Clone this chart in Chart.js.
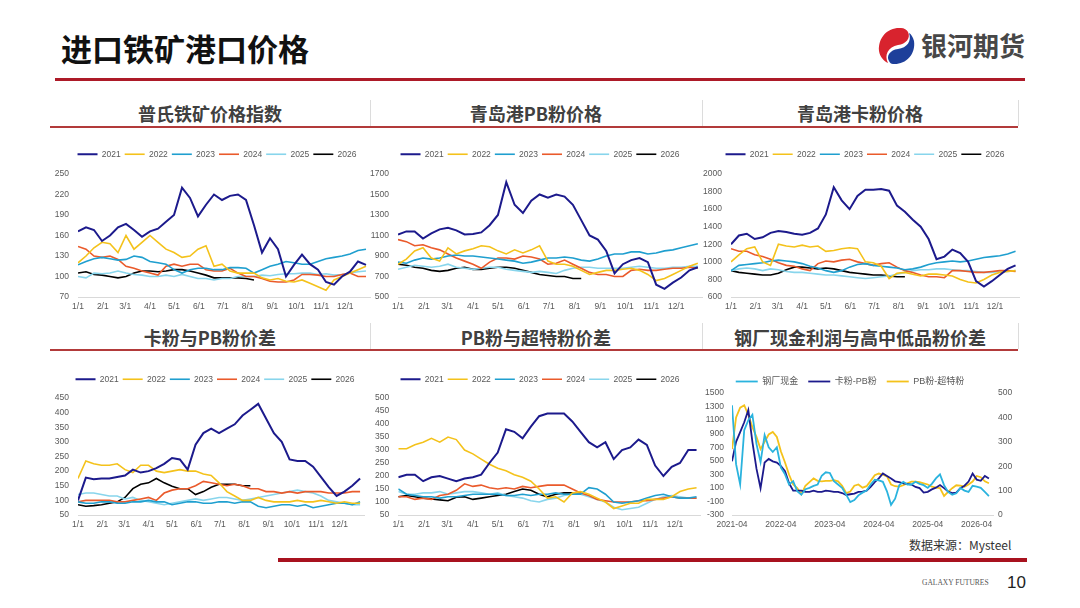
<!DOCTYPE html>
<html>
<head>
<meta charset="utf-8">
<script src="https://cdn.jsdelivr.net/npm/chart.js@4.4.1/dist/chart.umd.min.js"></script>
<style>
  body { margin: 0; background: #fff; }
  #page { position: relative; width: 1080px; height: 608px; overflow: hidden; background: #fff;
          font-family: "Noto Sans CJK SC", "Liberation Sans", sans-serif; }
  .abs { position: absolute; white-space: nowrap; }
  canvas { position: absolute; }
  .ptitle { position: absolute; font-weight: bold; font-size: 18px; line-height: 22px; color: #404040; text-align: center; }
  .rule { position: absolute; background: #b23a3a; height: 1.5px; }
  .vsep { position: absolute; width: 1px; background: #dcdcdc; }
</style>
</head>
<body>
<div id="page">
  <div class="abs" style="left:61px;top:28px;font-size:31px;line-height:40px;font-weight:bold;color:#111;">进口铁矿港口价格</div>
  <svg class="abs" style="left:874px;top:26px;" width="44" height="40" viewBox="0 0 44 40">
    <path d="M27 2 C14 1 4 11 5 25 C6 31 10 35 14 37 C10 29 14 21 24 19 C32 18 37 12 34 6 C33 4 30 2 27 2 Z" fill="#d8232e"/>
    <path d="M19 38 C31 39 42 29 40 15 C39 11 37 8 35 7 C38 15 33 22 24 23 C16 24 12 30 15 35 C16 37 17 38 19 38 Z" fill="#1d3f9a"/>
  </svg>
  <div class="abs" style="left:921px;top:28px;font-size:26px;line-height:34px;font-weight:bold;color:#474747;">银河期货</div>
  <div class="abs" style="left:55px;top:78px;width:970px;height:3px;background:#ad1a28;"></div>

  <div class="ptitle" style="left:50px;top:102px;width:320px;">普氏铁矿价格指数</div>
  <div class="ptitle" style="left:370px;top:102px;width:332px;">青岛港PB粉价格</div>
  <div class="ptitle" style="left:702px;top:102px;width:316px;">青岛港卡粉价格</div>
  <div class="rule" style="left:50px;top:126px;width:968px;"></div>
  <div class="vsep" style="left:370px;top:100px;height:26px;"></div>
  <div class="vsep" style="left:702px;top:100px;height:26px;"></div>
  <div class="vsep" style="left:1018px;top:100px;height:26px;"></div>

  <div class="ptitle" style="left:50px;top:326px;width:320px;">卡粉与PB粉价差</div>
  <div class="ptitle" style="left:370px;top:326px;width:332px;">PB粉与超特粉价差</div>
  <div class="ptitle" style="left:702px;top:326px;width:316px;">钢厂现金利润与高中低品粉价差</div>
  <div class="rule" style="left:50px;top:349px;width:968px;"></div>
  <div class="vsep" style="left:370px;top:323px;height:26px;"></div>
  <div class="vsep" style="left:702px;top:323px;height:26px;"></div>
  <div class="vsep" style="left:1018px;top:323px;height:26px;"></div>

  <div class="abs" style="left:909px;top:537px;font-size:12px;line-height:16px;color:#333;">数据来源：Mysteel</div>
  <div class="abs" style="left:278px;top:558px;width:749px;height:4px;background:#a8121f;"></div>
  <div class="abs" style="left:922px;top:578px;font-family:'Liberation Serif',serif;font-size:7.5px;line-height:10px;color:#555;">GALAXY FUTURES</div>
  <div class="abs" style="left:1007px;top:573px;font-family:'Liberation Sans',sans-serif;font-size:17px;line-height:20px;color:#222;">10</div>
</div>

<script>
// 采样日（年内第几天）
const sampleDays = [0,10,20,30,40,50,60,70,80,90,100,110,120,130,140,150,160,170,180,190,200,210,220,230,240,250,260,270,280,290,300,310,320,330,340,350,360];
const monthStart = [0,31,59,90,120,151,181,212,243,273,304,334];
const monthLabel = ['1/1','2/1','3/1','4/1','5/1','6/1','7/1','8/1','9/1','10/1','11/1','12/1'];
const yearNames = ['2021','2022','2023','2024','2025','2026'];
const yearColors = ['#1c1a8c','#f4c21b','#1f9fcf','#ea5a2b','#88d5ec','#000000'];
const yearWidths = [2, 1.6, 1.6, 1.6, 1.6, 1.6];

// 普氏铁矿价格指数
const platts21 = [166,172,168,152,160,172,177,168,158,166,170,180,190,230,215,188,205,220,212,218,220,212,175,135,156,140,100,117,132,118,110,92,88,100,107,122,117];
const platts22 = [120,130,142,150,148,135,160,140,150,160,150,140,135,128,130,140,145,115,118,108,105,105,105,98,95,97,93,92,95,90,85,80,95,100,105,110,115];
const platts23 = [117,122,126,128,126,124,125,130,128,122,120,118,110,105,110,112,112,110,110,113,113,112,105,110,115,118,122,120,118,118,122,126,128,130,133,138,140];
const platts24 = [144,140,130,128,130,125,115,112,108,105,102,115,118,115,118,118,110,108,108,112,105,100,100,97,93,92,92,95,103,103,102,100,100,103,105,100,100];
const platts25 = [100,98,105,104,105,108,105,103,102,100,100,102,100,103,100,97,97,95,97,97,100,100,100,102,101,103,104,104,105,105,103,104,102,103,105,107,108];
const platts26 = [105,107,103,102,100,98,100,105,108,108,107,108,110,110,108,105,102,98,98,98,98,97,95];
const plattsTicks = [70,100,130,160,190,220,250];

// 青岛港PB粉价格
const pb21 = [1110,1140,1140,1070,1120,1160,1175,1150,1110,1115,1130,1200,1300,1620,1400,1320,1440,1500,1470,1500,1480,1400,1250,1100,1060,950,730,820,860,880,840,620,580,640,690,760,790];
const pb22 = [820,870,950,980,880,850,980,920,950,970,1000,990,950,920,960,930,960,1000,850,820,820,800,760,720,740,760,760,770,780,760,720,660,680,720,760,800,830];
const pb23 = [840,830,860,880,870,880,900,910,900,900,890,880,870,860,850,830,840,860,880,880,890,880,860,850,870,900,920,920,940,940,920,930,950,960,980,1000,1020];
const pb24 = [1060,1040,1000,1010,980,960,920,880,850,820,780,840,880,880,870,900,890,870,820,830,860,820,780,740,720,720,700,700,760,770,760,760,770,780,780,790,780];
const pb25 = [770,790,810,800,790,800,820,790,780,770,780,790,790,770,760,750,740,750,740,730,760,780,790,790,780,780,780,780,790,800,790,780,780,790,790,800,800];
const pb26 = [820,810,790,780,760,750,760,780,790,770,770,780,790,790,780,760,740,720,710,700,700,680,680];
const pbTicks = [500,700,900,1100,1300,1500,1700];

// 青岛港卡粉价格
const kc21 = [1200,1300,1320,1260,1280,1330,1350,1340,1320,1310,1330,1380,1540,1850,1700,1600,1750,1820,1820,1830,1810,1640,1570,1480,1400,1260,1030,1060,1140,1100,1000,780,720,780,850,920,960];
const kc22 = [1000,1080,1150,1170,1000,960,1200,1180,1170,1190,1170,1180,1120,1130,1150,1160,1150,1000,990,950,810,870,880,860,840,860,860,850,840,800,770,760,800,850,880,890,900];
const kc23 = [900,960,970,980,990,1010,1020,1010,1000,980,950,930,900,880,900,940,970,980,960,950,940,930,910,920,940,970,990,1000,1010,1000,1010,1030,1050,1060,1070,1090,1120];
const kc24 = [1150,1120,1120,1080,1060,1030,990,960,950,920,900,980,1010,1000,1020,1030,1000,980,960,980,990,940,900,880,850,830,830,820,900,900,890,880,880,890,900,900,890];
const kc25 = [900,920,930,920,900,920,910,890,880,880,870,860,850,850,840,830,820,810,820,830,840,860,880,900,910,910,920,920,910,900,900,890,880,880,890,890,900];
const kc26 = [900,880,870,860,850,850,870,910,940,940,930,920,930,920,900,880,870,860,850,850,840,830,830];
const kcTicks = [600,800,1000,1200,1400,1600,1800,2000];

// 卡粉与PB粉价差
const kp21 = [100,178,172,175,175,180,185,205,195,200,210,225,245,240,205,290,330,345,330,345,360,390,410,430,380,330,300,240,235,235,215,180,145,115,130,150,175];
const kp22 = [175,235,225,220,220,225,205,195,220,220,200,195,200,205,200,200,190,185,160,130,115,100,100,110,100,95,95,95,100,95,95,100,95,90,95,90,90];
const kp23 = [95,90,90,95,95,90,90,95,95,100,95,95,85,90,95,95,90,90,95,95,90,95,95,80,75,80,85,85,80,85,75,80,85,90,90,85,95];
const kp24 = [95,100,100,100,100,95,95,100,105,110,100,125,135,140,140,150,165,160,155,150,155,150,140,140,130,130,125,130,125,130,130,130,125,125,125,130,130];
const kp25 = [120,125,125,120,115,115,105,110,100,95,90,85,90,95,100,105,100,105,110,110,105,100,105,110,115,120,125,130,135,130,125,115,100,95,90,85,85];
const kp26 = [85,80,82,85,90,95,110,140,155,160,175,160,148,140,140,120,130,145,155,155,155,150,150];
const kpTicks = [50,100,150,200,250,300,350,400,450];

// PB粉与超特粉价差
const ps21 = [195,205,205,180,195,200,190,180,190,195,205,250,290,380,370,345,390,430,440,440,440,410,370,330,310,330,265,300,310,340,320,240,200,235,250,300,300];
const ps22 = [305,305,320,330,345,330,350,340,300,285,265,245,230,220,205,195,180,150,115,120,100,135,140,130,115,100,75,85,95,95,110,110,110,120,140,150,155];
const ps23 = [150,130,125,120,120,115,120,120,125,130,130,130,130,125,125,130,125,130,130,135,130,130,130,155,150,130,100,95,100,105,115,125,130,120,115,115,120];
const ps24 = [120,120,110,115,110,125,130,145,170,160,165,155,150,155,150,160,155,160,165,165,165,150,135,125,110,105,100,100,100,105,105,110,115,120,115,115,115];
const ps25 = [140,130,130,135,135,140,130,135,140,140,135,130,135,125,120,115,105,100,110,115,125,130,130,120,110,100,80,70,75,80,95,110,120,125,120,115,115];
const ps26 = [120,125,120,115,112,108,105,118,120,110,115,120,125,130,140,150,145,130,120,130,135,135,135];
const psTicks = [50,100,150,200,250,300,350,400,450,500];

// 钢厂现金利润与价差（月度，2021-04起）
const profitNames = ['钢厂现金','卡粉-PB粉','PB粉-超特粉'];
const profitColors = ['#2ab3de','#1c1a8c','#f4c21b'];
const millCash = [1320,450,150,950,1100,1180,750,480,880,700,630,700,400,300,150,200,50,0,80,100,130,150,280,330,320,200,150,100,0,-110,-80,-10,30,60,150,220,210,190,50,-150,-60,140,190,150,150,190,160,140,100,160,240,300,140,40,0,20,100,60,40,130,120,100,40,-20];
const spreadKP = [220,300,340,380,430,300,190,110,215,230,220,215,200,180,130,100,100,100,95,95,100,95,95,100,98,95,95,90,82,85,88,95,96,100,115,135,150,170,160,150,138,135,130,128,125,115,110,92,95,105,112,123,110,96,90,92,110,120,137,170,145,140,160,150];
const spreadPS = [270,400,440,450,410,360,320,270,300,330,340,320,260,215,165,125,110,85,120,135,150,140,138,140,140,143,138,120,90,96,120,125,112,118,140,163,170,165,158,125,118,116,122,130,137,137,135,130,125,116,112,110,78,95,110,122,120,116,125,137,160,155,138,130];
const yearTickPos = [0,12,24,36,48,60];
const yearTickLabel = ['2021-04','2022-04','2023-04','2024-04','2025-04','2026-04'];
const cashTicks = [-300,-100,100,300,500,700,900,1100,1300,1500];
const spreadTicks = [0,100,200,300,400,500];

Chart.defaults.font.family = '"Liberation Sans","Noto Sans CJK SC",sans-serif';
Chart.defaults.color = '#595959';
const tickFont = { size: 8.5 };

// fixes the legend height and moves the legend so its centre sits at page x = cx
function legendPlace(h, g) {
  return {
    id: 'legendPlace',
    beforeInit(chart) {
      if (!chart.legend) return;
      const fit = chart.legend.fit;
      chart.legend.fit = function () { fit.call(this); this.height = h; };
    },
    afterLayout(chart) {
      const lg = chart.legend;
      if (!lg) return;
      const dx = (g.cx - g.x) - (lg.left + lg.right) / 2;
      lg.left += dx;
      lg.right += dx;
    }
  };
}

function makeCanvas(id, g) {
  const c = document.createElement('canvas');
  c.id = id;
  c.width = g.w; c.height = g.h;
  c.style.left = g.x + 'px'; c.style.top = g.y + 'px';
  c.style.width = g.w + 'px'; c.style.height = g.h + 'px';
  document.getElementById('page').appendChild(c);
  return c;
}

function yearChart(id, g, series, yTicks) {
  const datasets = yearNames.map((name, i) => ({
    label: name,
    data: series[i].map((v, j) => ({ x: sampleDays[j], y: v })),
    borderColor: yearColors[i],
    backgroundColor: yearColors[i],
    borderWidth: yearWidths[i],
    pointRadius: 0,
    tension: 0
  }));
  return new Chart(makeCanvas(id, g), {
    type: 'line',
    data: { datasets },
    options: {
      responsive: false,
      animation: false,
      events: [],
      layout: { padding: { left: 0, right: g.padR, top: 0, bottom: 0 } },
      plugins: {
        legend: {
          labels: { usePointStyle: true, pointStyle: 'line', pointStyleWidth: 20, padding: 4,
                    font: { size: 8.5 }, color: '#595959' }
        },
        tooltip: { enabled: false }
      },
      scales: {
        x: {
          type: 'linear', min: 0, max: 365,
          grid: { display: false, drawTicks: false },
          border: { display: true, color: '#d9d9d9' },
          afterBuildTicks: s => { s.ticks = monthStart.map(v => ({ value: v })); },
          afterFit: s => { s.height = 20; },
          ticks: { autoSkip: false, maxRotation: 0, padding: 5, font: tickFont, color: '#595959',
                   callback: v => monthLabel[monthStart.indexOf(v)] }
        },
        y: {
          min: yTicks[0], max: yTicks[yTicks.length - 1],
          grid: { display: false, drawTicks: false },
          border: { display: false },
          afterBuildTicks: s => { s.ticks = yTicks.map(v => ({ value: v })); },
          afterFit: s => { s.width = g.axisW; },
          ticks: { autoSkip: false, padding: 9, font: tickFont, color: '#595959', callback: v => String(v) }
        }
      }
    },
    plugins: [legendPlace(g.legendH, g)]
  });
}

yearChart('c1', { x: 40, y: 146, w: 340, h: 171, padR: 10, axisW: 38, legendH: 28, cx: 217 },
  [platts21, platts22, platts23, platts24, platts25, platts26], plattsTicks);
yearChart('c2', { x: 360, y: 146, w: 345, h: 171, padR: 3, axisW: 38, legendH: 28, cx: 540 },
  [pb21, pb22, pb23, pb24, pb25, pb26], pbTicks);
yearChart('c3', { x: 700, y: 146, w: 322, h: 171, padR: 2.5, axisW: 31, legendH: 28, cx: 865 },
  [kc21, kc22, kc23, kc24, kc25, kc26], kcTicks);
yearChart('c4', { x: 40, y: 371, w: 334, h: 164, padR: 10, axisW: 38, legendH: 27, cx: 215 },
  [kp21, kp22, kp23, kp24, kp25, kp26], kpTicks);
yearChart('c5', { x: 360, y: 371, w: 344, h: 164, padR: 3.3, axisW: 38.3, legendH: 27, cx: 540 },
  [ps21, ps22, ps23, ps24, ps25, ps26], psTicks);

// 钢厂现金利润与高中低品粉价差
const g6 = { x: 696, y: 367, w: 322, h: 168, cx: 850 };
const profitSeries = [millCash, spreadKP, spreadPS];
const profitAxis = ['yL', 'yR', 'yR'];
new Chart(makeCanvas('c6', g6), {
  type: 'line',
  data: {
    datasets: profitNames.map((name, i) => ({
      label: name,
      data: profitSeries[i].map((v, j) => ({ x: j, y: v })),
      yAxisID: profitAxis[i],
      borderColor: profitColors[i],
      backgroundColor: profitColors[i],
      borderWidth: 1.8,
      pointRadius: 0,
      tension: 0
    }))
  },
  options: {
    responsive: false,
    animation: false,
    events: [],
    layout: { padding: { left: 0, right: 0, top: 0, bottom: 0 } },
    plugins: {
      legend: {
        labels: { usePointStyle: true, pointStyle: 'line', pointStyleWidth: 22, padding: 10,
                  font: { size: 9 }, color: '#595959' }
      },
      tooltip: { enabled: false }
    },
    scales: {
      x: {
        type: 'linear', min: 0, max: 64,
        grid: { display: false, drawTicks: false },
        border: { display: true, color: '#d9d9d9' },
        afterBuildTicks: s => { s.ticks = yearTickPos.map(v => ({ value: v })); },
        afterFit: s => { s.height = 20; },
        ticks: { autoSkip: false, maxRotation: 0, padding: 5, font: tickFont, color: '#595959',
                 callback: v => yearTickLabel[yearTickPos.indexOf(v)] }
      },
      yL: {
        position: 'left', min: -300, max: 1500,
        grid: { display: false, drawTicks: false },
        border: { display: false },
        afterBuildTicks: s => { s.ticks = cashTicks.map(v => ({ value: v })); },
        afterFit: s => { s.width = 36; },
        ticks: { autoSkip: false, padding: 8, font: tickFont, color: '#595959', callback: v => String(v) }
      },
      yR: {
        position: 'right', min: 0, max: 500,
        grid: { display: false, drawTicks: false },
        border: { display: false },
        afterBuildTicks: s => { s.ticks = spreadTicks.map(v => ({ value: v })); },
        afterFit: s => { s.width = 25; },
        ticks: { autoSkip: false, padding: 5, font: tickFont, color: '#595959', callback: v => String(v) }
      }
    }
  },
  plugins: [legendPlace(26, g6)]
});
</script>
</body>
</html>
